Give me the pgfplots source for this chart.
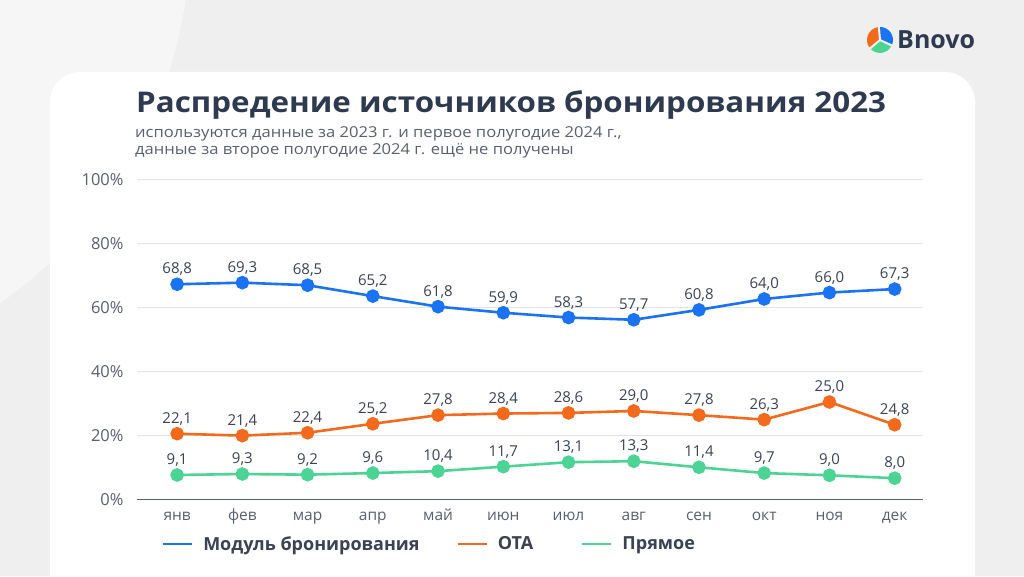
\documentclass[border=0pt]{standalone}
\usepackage{fontspec}
\setmainfont{Open Sans}
\usepackage{pgfplots}
\pgfplotsset{compat=1.18}
\usepackage{pgfplotstable}
\definecolor{bgc}{HTML}{EFEFEF}
\definecolor{blueL}{HTML}{1A73F2}
\definecolor{orangeL}{HTML}{F46A1C}
\definecolor{greenL}{HTML}{4CD494}
\definecolor{titlec}{HTML}{2E3A50}
\definecolor{tickc}{HTML}{5A6070}
\definecolor{labc}{HTML}{3A4254}
\definecolor{gridc}{HTML}{E2E3E6}

\pgfplotstableread{
x y l
0 67.2 68,8
1 67.7 69,3
2 66.9 68,5
3 63.5 65,2
4 60.2 61,8
5 58.3 59,9
6 56.8 58,3
7 56.1 57,7
8 59.2 60,8
9 62.6 64,0
10 64.6 66,0
11 65.7 67,3
}\modul
\pgfplotstableread{
x y l
0 20.5 22,1
1 19.9 21,4
2 20.8 22,4
3 23.6 25,2
4 26.3 27,8
5 26.8 28,4
6 27.0 28,6
7 27.6 29,0
8 26.3 27,8
9 24.9 26,3
10 30.4 25,0
11 23.3 24,8
}\ota
\pgfplotstableread{
x y l
0 7.6 9,1
1 7.9 9,3
2 7.7 9,2
3 8.2 9,6
4 8.8 10,4
5 10.2 11,7
6 11.6 13,1
7 11.9 13,3
8 10.0 11,4
9 8.2 9,7
10 7.5 9,0
11 6.6 8,0
}\pryamoe

\begin{document}
\begin{tikzpicture}[x=1pt,y=1pt]
\useasboundingbox (0,0) rectangle (1024,576);
\fill[bgc] (0,0) rectangle (1024,576);
\begin{scope}
\clip (0,0) rectangle (1024,576);
\fill[white,opacity=0.45] (-260,640) circle (450);
\fill[white,rounded corners=30pt] (50,-60) rectangle (975,504);
\end{scope}
% logo
\begin{scope}[shift={(880,536)}]
\fill[orangeL] (0,0) -- (100:13) arc (100:215:13) -- cycle;
\fill[blueL] (0,0) -- (-20:13) arc (-20:90:13) -- cycle;
\fill[greenL] (0,0) -- (225:13) arc (225:330:13) -- cycle;
\draw[bgc,line width=2pt] (0,0) -- (95:14) (0,0) -- (-25:14) (0,0) -- (220:14);
\end{scope}
\node[anchor=base west,inner sep=0,font=\fontsize{25}{29}\selectfont\bfseries,text=titlec] at (897,527) {Bnovo};
% title
\node[anchor=base west,inner sep=0,font=\fontsize{28.5}{32}\selectfont\bfseries,text=titlec] at (136,463.5) {\scalebox{1.1}[1]{Распредение источников бронирования 2023}};
\node[anchor=base west,inner sep=0,font=\fontsize{15}{17}\selectfont,text=tickc] at (135,438.5) {\scalebox{1.105}[1]{используются данные за 2023 г. и первое полугодие 2024 г.,}};
\node[anchor=base west,inner sep=0,font=\fontsize{15}{17}\selectfont,text=tickc] at (135,421.5) {\scalebox{1.105}[1]{данные за второе полугодие 2024 г. ещё не получены}};

\begin{axis}[
  at={(136.7pt,76.7pt)}, anchor=south west,
  scale only axis, width=786pt, height=320pt,
  xmin=-0.62, xmax=11.43, ymin=0, ymax=100,
  axis line style={draw=none},
  major tick length=0pt,
  ytick={20,40,60,80,100},
  yticklabels={20\%,40\%,60\%,80\%,100\%},
  extra y ticks={0}, extra y tick labels={0\%},
  extra y tick style={grid style={draw=tickc,line width=1.3pt}},
  ymajorgrids, grid style={draw=gridc,line width=0.8pt},
  xtick={0,...,11},
  xticklabels={янв,фев,мар,апр,май,июн,июл,авг,сен,окт,ноя,дек},
  tick label style={text=tickc},
  yticklabel style={anchor=east,inner sep=0pt,xshift=-13pt,font=\fontsize{16.5}{19}\selectfont},
  xticklabel style={anchor=base,inner sep=0pt,yshift=-21.5pt,font=\fontsize{15.5}{18}\selectfont},
  clip=false,
  nodes near coords,
  point meta=explicit symbolic,
  every node near coord/.append style={anchor=base,inner sep=0pt,yshift=10.5pt,font=\fontsize{15}{17}\selectfont,text=labc},
  legend columns=3,
  legend style={at={(0.0315,-0.1397)},anchor=west,draw=none,fill=none,inner sep=0pt,
    font=\fontsize{18}{20}\selectfont\bfseries,text=labc,
    /tikz/every odd column/.append style={column sep=10pt},
    /tikz/every even column/.append style={column sep=0pt},
    nodes={inner sep=0pt,anchor=west}},
  legend image code/.code={\draw[line width=2.6pt] (0pt,0pt) -- (29pt,0pt);},
]
\addplot[blueL,line width=2.6pt,mark=*,mark size=5.5pt,mark options={draw=none,fill=blueL}] table[x=x,y=y,meta=l] {\modul};
\addlegendentry{\makebox[253pt][l]{Модуль бронирования}}
\addplot[orangeL,line width=2.6pt,mark=*,mark size=5.5pt,mark options={draw=none,fill=orangeL}] table[x=x,y=y,meta=l] {\ota};
\addlegendentry{\makebox[83pt][l]{ОТА}}
\addplot[greenL,line width=2.6pt,mark=*,mark size=5.5pt,mark options={draw=none,fill=greenL}] table[x=x,y=y,meta=l] {\pryamoe};
\addlegendentry{Прямое}
\end{axis}
\end{tikzpicture}
\end{document}
